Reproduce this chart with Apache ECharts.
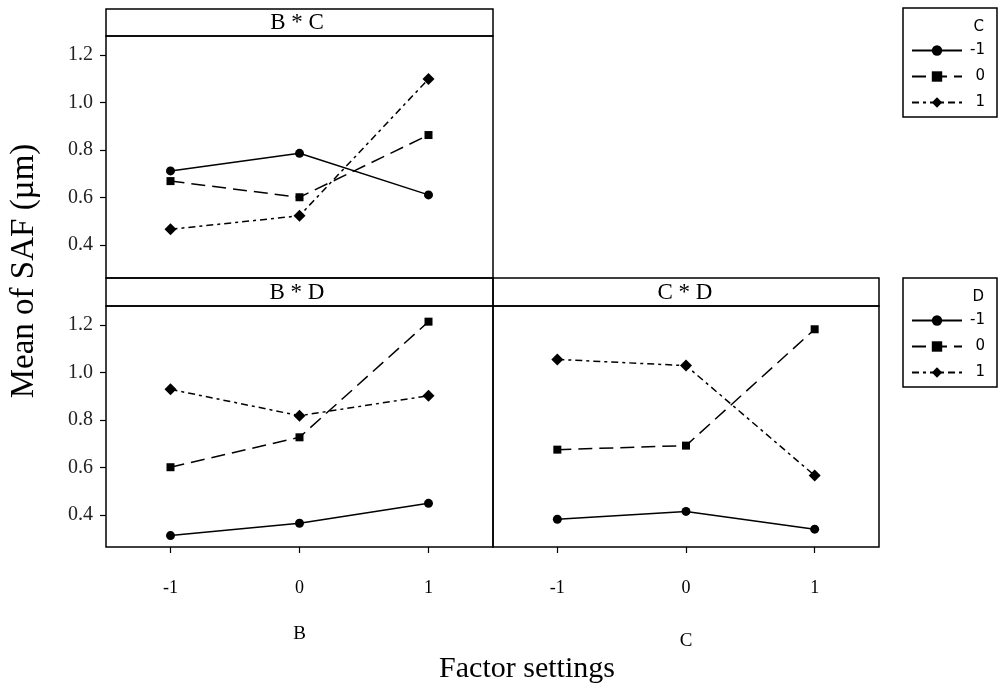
<!DOCTYPE html>
<html>
<head>
<meta charset="utf-8">
<script src="https://cdn.jsdelivr.net/npm/echarts@6/dist/echarts.min.js"></script>
<style>html,body{margin:0;padding:0;background:#fff;}#c{width:1000px;height:693px;}</style>
</head>
<body>
<div id="c"></div>
<script>
// ---- data ----
const xCats = ['-1', '0', '1'];
const yTicks = [0.4, 0.6, 0.8, 1.0, 1.2];
const levels = ['-1', '0', '1'];
// B * C panel (series = levels of C)
const bc_Cm1 = [0.712, 0.786, 0.611];
const bc_C0  = [0.669, 0.601, 0.863];
const bc_C1  = [0.466, 0.523, 1.099];
// B * D panel (series = levels of D)
const bd_Dm1 = [0.313, 0.365, 0.449];
const bd_D0  = [0.601, 0.727, 1.214];
const bd_D1  = [0.929, 0.818, 0.902];
// C * D panel (series = levels of D)
const cd_Dm1 = [0.382, 0.415, 0.340];
const cd_D0  = [0.675, 0.692, 1.182];
const cd_D1  = [1.055, 1.029, 0.566];

const serif = 'Liberation Serif, Times New Roman, serif';
const sans = 'DejaVu Sans, sans-serif';
const symbols = ['circle', 'rect', 'diamond'];
const symSizes = [9, 8, 12];
const dashes = ['solid', [14, 7], [7, 4, 3, 4]];

function mkSeries(name, data, idx, gi) {
  return {
    name: name, type: 'line', xAxisIndex: gi, yAxisIndex: gi, data: data,
    symbol: symbols[idx], symbolSize: symSizes[idx], showSymbol: true,
    lineStyle: { color: '#000', width: 1.5, type: dashes[idx] },
    itemStyle: { color: '#000' }, animation: false
  };
}

const grids = [
  { left: 106, top: 36, width: 387, height: 242 },
  { left: 106, top: 306, width: 387, height: 241 },
  { left: 493, top: 306, width: 386, height: 241 }
].map(g => Object.assign(g, { show: true, borderColor: '#000', borderWidth: 1.5, containLabel: false }));

function xAx(gi, showLabels, name, nameGap) {
  return {
    type: 'category', gridIndex: gi, data: xCats, boundaryGap: true,
    axisLine: { show: false },
    axisTick: { show: showLabels, alignWithLabel: true, length: 6, lineStyle: { color: '#000', width: 1.2 } },
    axisLabel: { show: showLabels, margin: 32, fontFamily: serif, fontSize: 18, color: '#000' },
    name: name, nameLocation: 'middle', nameGap: nameGap,
    nameTextStyle: { fontFamily: serif, fontSize: 19, color: '#000', verticalAlign: 'top' }
  };
}
function yAx(gi, min, showLabels) {
  return {
    type: 'value', gridIndex: gi, min: min, max: 1.28,
    splitLine: { show: false }, axisLine: { show: false },
    axisTick: { show: showLabels, length: 6, customValues: yTicks, lineStyle: { color: '#000', width: 1.2 } },
    axisLabel: { show: showLabels, customValues: yTicks, margin: 13, fontFamily: serif, fontSize: 20, color: '#222',
      formatter: v => Number(v).toFixed(1) }
  };
}

const legFmt = name => '{t|' + name.split(': ')[1] + '}';
function legend(names, top) {
  return {
    data: names, orient: 'vertical', left: 906, top: top, itemWidth: 50, itemHeight: 13, itemGap: 11,
    formatter: legFmt, selectedMode: false,
    textStyle: { fontFamily: sans, fontSize: 15, color: '#000', lineHeight: 14,
      rich: { t: { width: 18, align: 'right', fontFamily: sans, fontSize: 15, color: '#000' } } }
  };
}
const cNames = levels.map(l => 'C: ' + l);
const dNames = levels.map(l => 'D: ' + l);

function rect(x, y, w, h) {
  return { type: 'rect', shape: { x: x, y: y, width: w, height: h }, style: { fill: 'transparent', stroke: '#000', lineWidth: 1.5 }, silent: true };
}
function txt(t, x, y, size, font, align, rot) {
  return { type: 'text', x: x, y: y, rotation: rot || 0, silent: true,
    style: { text: t, fill: '#000', font: size + 'px ' + font, align: align || 'center', verticalAlign: 'middle' } };
}

const option = {
  backgroundColor: '#fff',
  animation: false,
  grid: grids,
  xAxis: [xAx(0, false, '', 0), xAx(1, true, 'B', 78), xAx(2, true, 'C', 85)],
  yAxis: [yAx(0, 0.261, true), yAx(1, 0.265, true), yAx(2, 0.265, false)],
  legend: [legend(cNames, 38), legend(dNames, 308)],
  series: [
    mkSeries(cNames[0], bc_Cm1, 0, 0), mkSeries(cNames[1], bc_C0, 1, 0), mkSeries(cNames[2], bc_C1, 2, 0),
    mkSeries(dNames[0], bd_Dm1, 0, 1), mkSeries(dNames[1], bd_D0, 1, 1), mkSeries(dNames[2], bd_D1, 2, 1),
    mkSeries(dNames[0], cd_Dm1, 0, 2), mkSeries(dNames[1], cd_D0, 1, 2), mkSeries(dNames[2], cd_D1, 2, 2)
  ],
  graphic: [
    rect(106, 9, 387, 27), rect(106, 278, 387, 28), rect(493, 278, 386, 28),
    rect(903, 8, 94, 109), rect(903, 278, 94, 109),
    txt('B * C', 297, 23, 23, serif), txt('B * D', 297, 293, 23, serif), txt('C * D', 685, 293, 23, serif),
    txt('C', 984, 27, 15, sans, 'right'), txt('D', 984, 297, 15, sans, 'right'),
    txt('Factor settings', 527, 669, 30, serif),
    txt('Mean of SAF (µm)', 24, 271, 33, serif, 'center', Math.PI / 2)
  ]
};
const chart = echarts.init(document.getElementById('c'), null, { renderer: 'canvas' });
chart.setOption(option);
</script>
</body>
</html>
